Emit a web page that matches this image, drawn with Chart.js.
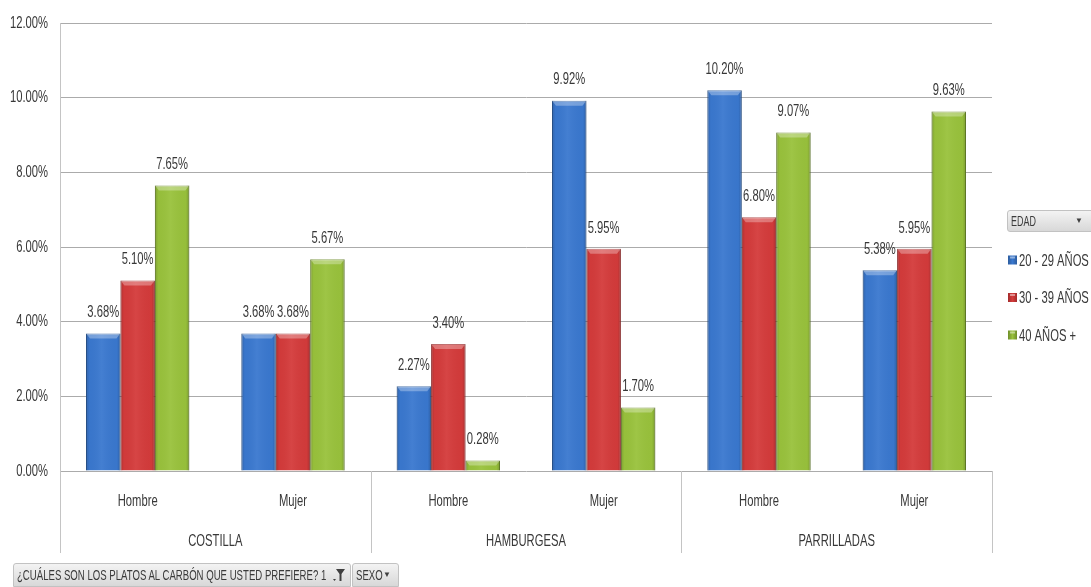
<!DOCTYPE html>
<html>
<head>
<meta charset="utf-8">
<script src="https://cdn.jsdelivr.net/npm/chart.js@4.4.1/dist/chart.umd.min.js"></script>
<style>
  html, body { margin: 0; padding: 0; background: #fff; overflow: hidden; }
  #wrap { position: relative; width: 1091px; height: 587px; font-family: "Liberation Sans", Arial, sans-serif; }
  #chart { position: absolute; left: 0; top: 0; }
  .btn {
    position: absolute; box-sizing: border-box; height: 24px;
    background: linear-gradient(#f3f3f3, #d8d8d8);
    border: 1px solid #c2c2c2; border-radius: 3px 3px 0 0;
    color: #3a3a3a; font-size: 15px; line-height: 22px; padding-left: 3px;
    white-space: nowrap; overflow: hidden;
  }
  .btn .txt { display: inline-block; transform: scaleX(0.64); transform-origin: 0 50%; }
  .btn .arr { position: absolute; right: 7px; top: 0; font-size: 8px; color: #404040; }
  #edad { left: 1007px; top: 210px; width: 90px; height: 22px; border-radius: 3px; line-height: 20px; font-size: 14px; }
  #edad .arr { right: 13px; }
  #q { left: 13px; top: 563px; width: 338px; }
  #q .funnel { position: absolute; right: 4px; top: 4px; }
  #sexo { left: 352px; top: 563px; width: 47px; }
</style>
</head>
<body>
<div id="wrap">
  <canvas id="chart" width="1091" height="587"></canvas>
  <div class="btn" id="edad"><span class="txt">EDAD</span><span class="arr">&#9660;</span></div>
  <div class="btn" id="q"><span class="txt">¿CUÁLES SON LOS PLATOS AL CARBÓN QUE USTED PREFIERE? 1</span>
    <svg class="funnel" width="14" height="15" viewBox="0 0 14 15">
      <path d="M4 1 L13 1 L9.5 6 L9.5 13 L7.5 13 L7.5 6 Z" fill="#404040"/>
      <path d="M1 11 L4 11 L2.5 13 Z" fill="#404040"/>
    </svg>
  </div>
  <div class="btn" id="sexo"><span class="txt">SEXO</span><span class="arr">&#9660;</span></div>
</div>
<script>
const subLabels = ["Hombre", "Mujer", "Hombre", "Mujer", "Hombre", "Mujer"];
const groupLabels = ["COSTILLA", "HAMBURGESA", "PARRILLADAS"];
const seriesNames = ["20 - 29 AÑOS", "30 - 39 AÑOS", "40 AÑOS +"];
const age20to29 = [3.68, 3.68, 2.27, 9.92, 10.20, 5.38];
const age30to39 = [5.10, 3.68, 3.40, 5.95, 6.80, 5.95];
const age40plus = [7.65, 5.67, 0.28, 1.70, 9.07, 9.63];
const yMax = 12;
const yStep = 2;

const FONT = '17px "Liberation Sans", Arial, sans-serif';
const SQUEEZE = 0.66; // narrow, calibri-like text
const TEXT = "#383838";
const fills = ["#3a78cf", "#d43b3b", "#99c23c"];
const edges = ["#2c5c9e", "#a32c2c", "#6f8e2a"];

function narrowText(ctx, str, x, y, align) {
  ctx.save();
  ctx.translate(x, y);
  ctx.scale(SQUEEZE, 1);
  ctx.font = FONT;
  ctx.fillStyle = TEXT;
  ctx.textAlign = align || "center";
  ctx.textBaseline = "middle";
  ctx.fillText(str, 0, 0);
  ctx.restore();
}

// excel-ish bevel: darker sides, light strip on top
const bevel = {
  id: "bevel",
  afterDatasetsDraw(chart) {
    const ctx = chart.ctx;
    chart.data.datasets.forEach((ds, di) => {
      chart.getDatasetMeta(di).data.forEach(el => {
        const { x, y, base, width } = el.getProps(["x", "y", "base", "width"], true);
        const l = x - width / 2, h = base - y;
        ctx.save();
        const g = ctx.createLinearGradient(l, 0, l + width, 0);
        g.addColorStop(0, "rgba(0,0,0,0.18)");
        g.addColorStop(0.1, "rgba(0,0,0,0.02)");
        g.addColorStop(0.45, "rgba(255,255,255,0.05)");
        g.addColorStop(0.9, "rgba(0,0,0,0.02)");
        g.addColorStop(1, "rgba(0,0,0,0.2)");
        ctx.fillStyle = g;
        ctx.fillRect(l, y, width, h);
        const b = Math.min(5, h / 2);
        ctx.beginPath();
        ctx.moveTo(l, y);
        ctx.lineTo(l + width, y);
        ctx.lineTo(l + width - 4, y + b);
        ctx.lineTo(l + 4, y + b);
        ctx.closePath();
        ctx.fillStyle = "rgba(255,255,255,0.3)";
        ctx.fill();
        ctx.restore();
      });
    });
  }
};

// value labels over each bar
const valueLabels = {
  id: "valueLabels",
  afterDatasetsDraw(chart) {
    chart.data.datasets.forEach((ds, di) => {
      chart.getDatasetMeta(di).data.forEach((el, i) => {
        narrowText(chart.ctx, ds.data[i].toFixed(2) + "%", el.x, el.y - 21);
      });
    });
  }
};

// tick labels for both axes, drawn narrow at the scales' own positions
const tickText = {
  id: "tickText",
  afterDraw(chart) {
    const ctx = chart.ctx, xs = chart.scales.x, ys = chart.scales.y, area = chart.chartArea;
    ys.ticks.forEach(t => {
      narrowText(ctx, t.value.toFixed(2) + "%", area.left - 12, ys.getPixelForValue(t.value), "right");
    });
    chart.data.labels.forEach((lab, i) => {
      narrowText(ctx, lab, xs.getPixelForTick(i), area.bottom + 30);
    });
  }
};

// second level of the category axis + separators
const groupAxis = {
  id: "groupAxis",
  afterDraw(chart) {
    const ctx = chart.ctx, xs = chart.scales.x, area = chart.chartArea;
    const per = subLabels.length / groupLabels.length;
    const bottom = area.bottom + 82;
    const cuts = [area.left];
    for (let g = 1; g < groupLabels.length; g++) {
      cuts.push((xs.getPixelForValue(g * per - 1) + xs.getPixelForValue(g * per)) / 2);
    }
    cuts.push(area.right);
    ctx.save();
    ctx.strokeStyle = "#c4c4c4";
    ctx.lineWidth = 1;
    cuts.forEach(cx => {
      const px = Math.round(cx) + 0.5;
      ctx.beginPath();
      ctx.moveTo(px, area.bottom);
      ctx.lineTo(px, bottom);
      ctx.stroke();
    });
    ctx.restore();
    groupLabels.forEach((name, g) => {
      const cx = (xs.getPixelForValue(g * per) + xs.getPixelForValue(g * per + per - 1)) / 2;
      narrowText(ctx, name, cx, area.bottom + 70);
    });
  }
};

// legend at the right, under the EDAD field button
const sideLegend = {
  id: "sideLegend",
  afterDraw(chart) {
    const ctx = chart.ctx;
    chart.data.datasets.forEach((ds, i) => {
      const y = 260 + i * 37.5;
      ctx.save();
      const g = ctx.createLinearGradient(1008, 0, 1017, 0);
      g.addColorStop(0, edges[i]);
      g.addColorStop(0.5, fills[i]);
      g.addColorStop(1, edges[i]);
      ctx.fillStyle = g;
      ctx.fillRect(1008, y - 4.5, 9, 9);
      ctx.fillStyle = "rgba(255,255,255,0.45)";
      ctx.fillRect(1010, y - 3.5, 5, 2);
      ctx.restore();
      narrowText(ctx, ds.label, 1019, y + 1, "left");
    });
  }
};

const series = [age20to29, age30to39, age40plus];

new Chart(document.getElementById("chart"), {
  type: "bar",
  data: {
    labels: subLabels,
    datasets: series.map((d, i) => ({
      label: seriesNames[i],
      data: d,
      backgroundColor: fills[i],
      borderColor: edges[i],
      borderWidth: 1,
      categoryPercentage: 0.665,
      barPercentage: 1
    }))
  },
  options: {
    responsive: false,
    animation: false,
    devicePixelRatio: 1,
    layout: { padding: { top: 23, right: 99, left: 0, bottom: 0 } },
    plugins: { legend: { display: false }, tooltip: { enabled: false } },
    scales: {
      x: {
        grid: { display: false },
        border: { display: false },
        ticks: { display: false },
        afterFit(s) { s.height = 116; }
      },
      y: {
        min: 0,
        max: yMax,
        ticks: { display: false, stepSize: yStep },
        grid: { color: "#ababab", drawTicks: false },
        border: { display: true, color: "#c4c4c4" },
        afterFit(s) { s.width = 60; }
      }
    }
  },
  plugins: [bevel, valueLabels, tickText, groupAxis, sideLegend]
});
</script>
</body>
</html>
